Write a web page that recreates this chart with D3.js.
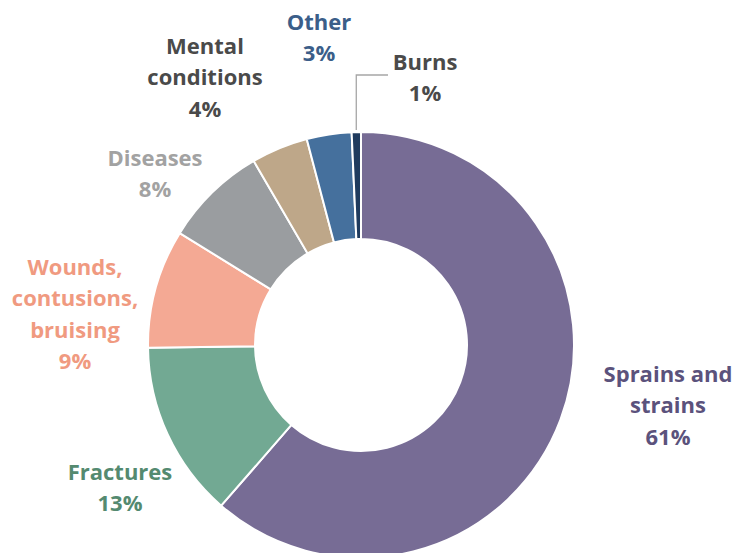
<!DOCTYPE html>
<html>
<head>
<meta charset="utf-8">
<script src="https://cdn.jsdelivr.net/npm/d3@7"></script>
<style>
  html, body { margin: 0; padding: 0; background: #fff; }
  svg text { font-family: "Open Sans", "Noto Sans", sans-serif; font-weight: 700; }
</style>
</head>
<body>
<svg id="chart" width="734" height="553"></svg>
<script>
// Injury types, share of cases (percent)
const categories = ["Sprains and strains", "Fractures", "Wounds, contusions, bruising", "Diseases", "Mental conditions", "Other", "Burns"];
const values = [61.4, 13.4, 9.0, 7.8, 4.3, 3.4, 0.7];
const sliceColors = ["#776c95", "#72a993", "#f4a994", "#9a9da0", "#bea789", "#45709d", "#1f3b5e"];
const labelColors = ["#5b527c", "#548a70", "#f09a80", "#a2a2a2", "#4a4a4a", "#3b5e89", "#4a4a4a"];
// Label text split into lines
const labelLines = [
  ["Sprains and", "strains"],
  ["Fractures"],
  ["Wounds,", "contusions,", "bruising"],
  ["Diseases"],
  ["Mental", "conditions"],
  ["Other"],
  ["Burns"]
];
// Label anchor (centre of the block's first line) per slice
const labelPos = [[668, 374], [120, 472], [75, 267], [155, 158], [205, 46], [319, 22], [425, 62]];

const svg = d3.select("#chart");
const cx = 361, cy = 345, outerR = 213, innerR = 106;
const g = svg.append("g").attr("transform", `translate(${cx},${cy})`);

const pie = d3.pie().sort(null).value(d => d);
const arcs = pie(values);
const arc = d3.arc().innerRadius(innerR).outerRadius(outerR);

g.selectAll("path.slice")
  .data(arcs)
  .join("path")
  .attr("class", "slice")
  .attr("d", arc)
  .attr("fill", (d, i) => sliceColors[i])
  .attr("stroke", "#fff")
  .attr("stroke-width", 2);

// Leader line for the thin Burns slice
const burns = arcs[6];
const mid = (burns.startAngle + burns.endAngle) / 2;
const px = cx + Math.sin(mid) * (outerR + 2);
const py = cy - Math.cos(mid) * (outerR + 2);
svg.append("polyline")
  .attr("points", `${px},${py} ${px},75 388,75`)
  .attr("fill", "none")
  .attr("stroke", "#a6a6a6")
  .attr("stroke-width", 1.3);

const fmt = v => Math.round(v) + "%";
const lineH = 31.5;
categories.forEach((c, i) => {
  const lines = labelLines[i].concat([fmt(values[i])]);
  const t = svg.append("text")
    .attr("text-anchor", "middle")
    .attr("fill", labelColors[i])
    .attr("font-size", 22);
  lines.forEach((s, k) => {
    t.append("tspan")
      .attr("x", labelPos[i][0])
      .attr("y", labelPos[i][1] + k * lineH)
      .attr("dy", "0.35em")
      .text(s);
  });
});
</script>
</body>
</html>
